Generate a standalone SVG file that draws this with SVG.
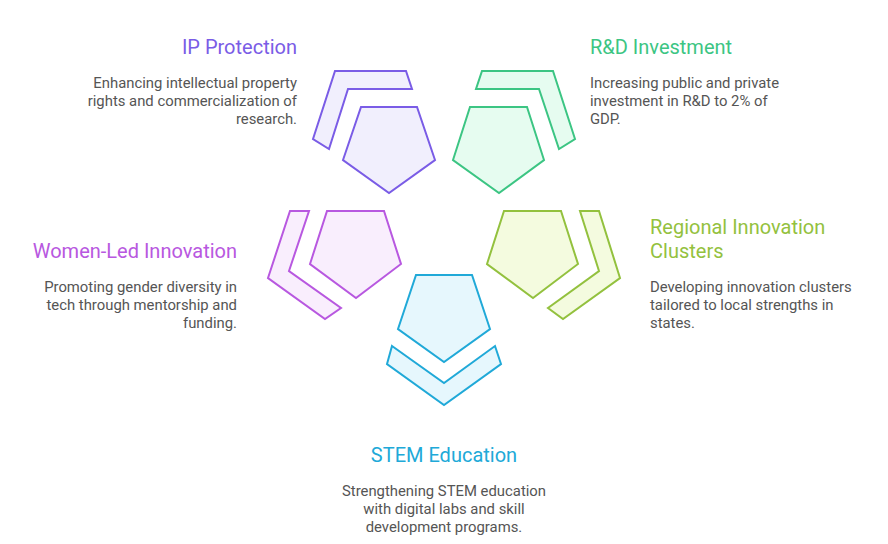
<svg xmlns="http://www.w3.org/2000/svg" width="888" height="544" viewBox="0 0 888 544">
<style>
.t{font-family:Roboto,"Liberation Sans",sans-serif;font-size:20px}
.b{font-family:Roboto,"Liberation Sans",sans-serif;font-size:14.85px;fill:#555555}
.s{stroke-width:2;stroke-linejoin:miter}
.r{text-anchor:end}
.m{text-anchor:middle}
</style>
<rect width="888" height="544" fill="#ffffff"/>
<g id="connectors"></g>
<g id="ip-protection">
<polygon class="s" points="335,71 406,71 412,89 348,89 329,149 313,139" fill="#f1effd" stroke="#7a5ce6"/>
<polygon class="s" points="361,107 417,107 435,160 389,193 343,160" fill="#f1effd" stroke="#7a5ce6"/>
<text class="t r" x="297" y="54" fill="#7a5ce6">IP Protection</text>
<text class="b r" x="297" y="88">Enhancing intellectual property</text>
<text class="b r" x="297" y="106">rights and commercialization of</text>
<text class="b r" x="297" y="124">research.</text>
</g>
<g id="rd-investment">
<polygon class="s" points="482,71 553,71 575,139 559,149 539,89 476,89" fill="#e6fcf0" stroke="#3cc583"/>
<polygon class="s" points="470,107 527,107 544,160 499,193 453,160" fill="#e6fcf0" stroke="#3cc583"/>
<text class="t" x="590" y="54" fill="#3cc583">R&amp;D Investment</text>
<text class="b" x="590" y="88">Increasing public and private</text>
<text class="b" x="590" y="106">investment in R&amp;D to 2% of</text>
<text class="b" x="590" y="124">GDP.</text>
</g>
<g id="women-led-innovation">
<polygon class="s" points="290,211 309,211 289,271 341,308 325,319 268,278" fill="#f9eefd" stroke="#b858e0"/>
<polygon class="s" points="327,211 384,211 401,264 356,298 310,264" fill="#f9eefd" stroke="#b858e0"/>
<text class="t r" x="237" y="258" fill="#b858e0">Women-Led Innovation</text>
<text class="b r" x="237" y="292">Promoting gender diversity in</text>
<text class="b r" x="237" y="310">tech through mentorship and</text>
<text class="b r" x="237" y="328">funding.</text>
</g>
<g id="regional-innovation-clusters">
<polygon class="s" points="580,211 599,211 620,278 563,319 548,308 599,271" fill="#f4fbdf" stroke="#93c13e"/>
<polygon class="s" points="504,211 561,211 578,264 533,298 487,264" fill="#f4fbdf" stroke="#93c13e"/>
<text class="t" x="650" y="234" fill="#93c13e">Regional Innovation</text>
<text class="t" x="650" y="258" fill="#93c13e">Clusters</text>
<text class="b" x="650" y="292">Developing innovation clusters</text>
<text class="b" x="650" y="310">tailored to local strengths in</text>
<text class="b" x="650" y="328">states.</text>
</g>
<g id="stem-education">
<polygon class="s" points="392,346 444,383 495,346 501,364 444,405 387,364" fill="#e6f7fd" stroke="#20a9d8"/>
<polygon class="s" points="416,275 472,275 490,329 444,362 398,329" fill="#e6f7fd" stroke="#20a9d8"/>
<text class="t m" x="444" y="462" fill="#20a9d8">STEM Education</text>
<text class="b m" x="444" y="496">Strengthening STEM education</text>
<text class="b m" x="444" y="514">with digital labs and skill</text>
<text class="b m" x="444" y="532">development programs.</text>
</g>
</svg>
